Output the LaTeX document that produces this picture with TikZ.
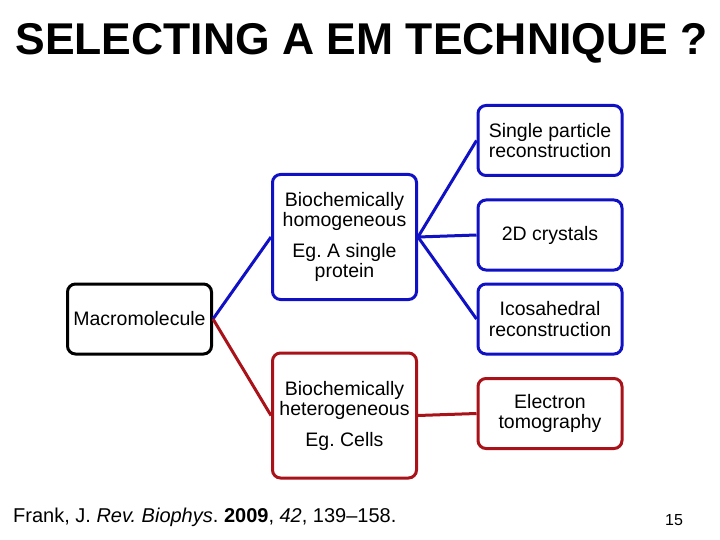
\documentclass[tikz,border=0pt]{standalone}
\usepackage{fontspec}
\setmainfont{Liberation Sans}
\usetikzlibrary{positioning}

\definecolor{homblue}{RGB}{16,16,196}
\definecolor{hetred}{RGB}{168,18,24}
\frenchspacing

\begin{document}
\begin{tikzpicture}[x=1pt,y=-1pt,
	box/.style={draw, line width=3pt, rounded corners=8pt, align=center, inner sep=2pt,
		font=\fontsize{19.5}{20.5}\selectfont, minimum width=144pt, minimum height=70pt},
	link/.style={line width=3pt}]
			\useasboundingbox (0,0) rectangle (720,540);
			
			\def\xL{139.5};
			\def\xM{344.5};
			\def\xR{550};
			
			\node[anchor=base, font=\fontsize{44.5}{48}\selectfont\bfseries] (title) at (361.5,55) {SELECTING A EM TECHNIQUE ?};
			
			%sample
			\node[box] (macro) at (\xL,319) {Macromolecule};
			\node[box, draw=homblue, minimum height=125pt] (homo) at (\xM,237) {Biochemically\\homogeneous\\[10pt]Eg. A single\\protein};
			\node[box, draw=hetred, minimum height=125pt] (hetero) at (\xM,415.5) {Biochemically\\heterogeneous\\[10pt]Eg. Cells};
			
			%techniques
			\node[box, draw=homblue] (spr) at (\xR,140.5) {Single particle\\reconstruction};
			\node[box, draw=homblue] (cryst) at (\xR,235) {2D crystals};
			\node[box, draw=homblue] (ico) at (\xR,319) {Icosahedral\\reconstruction};
			\node[box, draw=hetred] (tomo) at (\xR,413.5) {Electron\\tomography};
			
			\draw [link, homblue] (macro.east) -- (homo.west);
			\draw [link, hetred] (macro.east) -- (hetero.west);
			\draw [link, homblue] (homo.east) -- (spr.west);
			\draw [link, homblue] (homo.east) -- (cryst.west);
			\draw [link, homblue] (homo.east) -- (ico.west);
			\draw [link, hetred] (hetero.east) -- (tomo.west);
			
			\node[anchor=base west, inner sep=0pt, font=\fontsize{20}{22}\selectfont] (ref) at (13,522) {Frank, J. \textit{Rev. Biophys}. \textbf{2009}, \textit{42}, 139--158.};
			\node[anchor=base, inner sep=0pt, font=\fontsize{16}{18}\selectfont] (page) at (674,525) {15};
		\end{tikzpicture}
\end{document}
